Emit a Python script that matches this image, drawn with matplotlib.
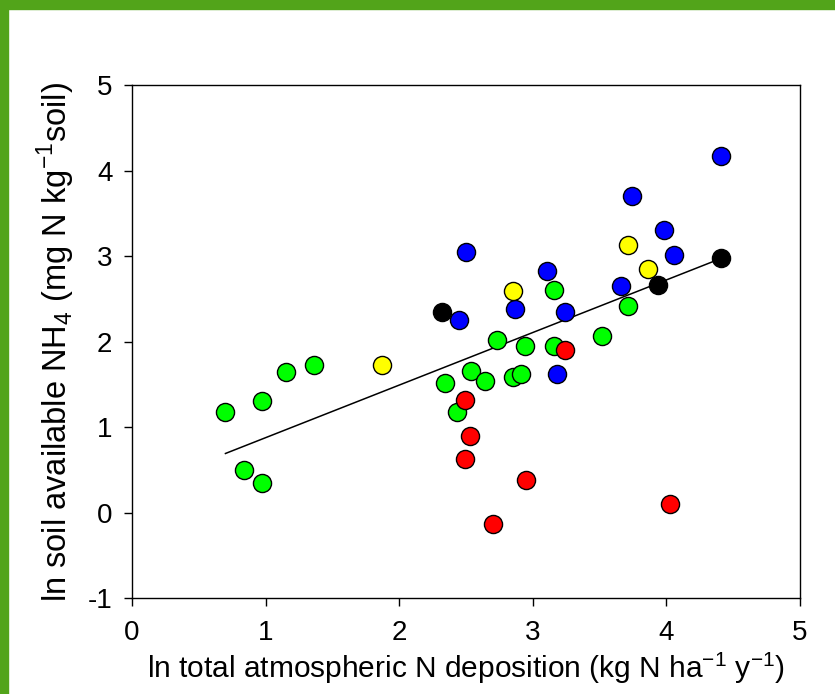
import matplotlib.pyplot as plt
import numpy as np
from matplotlib.patches import Rectangle

plt.rcParams['font.family'] = ['Liberation Sans', 'DejaVu Sans']
plt.rcParams['mathtext.fontset'] = 'custom'
plt.rcParams['mathtext.rm'] = 'Liberation Sans'
plt.rcParams['axes.unicode_minus'] = False

# ln deposition (x) and ln soil NH4 (y), one pair of arrays per site group
green_x = [0.70, 0.84, 0.97, 0.97, 1.155, 1.36, 2.34, 2.43, 2.54, 2.64, 2.73, 2.85,
           2.91, 2.94, 3.16, 3.16, 3.52, 3.71]
green_y = [1.17, 0.50, 1.30, 0.34, 1.64, 1.72, 1.51, 1.18, 1.65, 1.54, 2.02, 1.59,
           1.62, 1.95, 1.95, 2.60, 2.06, 2.41]
blue_x = [2.45, 2.50, 2.87, 3.11, 3.18, 3.24, 3.66, 3.74, 3.98, 4.06, 4.41]
blue_y = [2.25, 3.05, 2.38, 2.82, 1.62, 2.34, 2.65, 3.70, 3.31, 3.01, 4.17]
red_x = [2.49, 2.49, 2.53, 2.70, 2.95, 3.24, 4.03]
red_y = [1.32, 0.63, 0.89, -0.13, 0.38, 1.90, 0.10]
yellow_x = [1.87, 2.85, 3.71, 3.86]
yellow_y = [1.73, 2.59, 3.13, 2.85]
black_x = [2.32, 3.94, 4.41]
black_y = [2.35, 2.66, 2.98]

# fitted regression line
fit_slope = 0.615
fit_intercept = 0.26
fit_range = [0.70, 4.41]

fig = plt.figure(figsize=(8.35, 6.94), dpi=100)
fig.patches.append(Rectangle((0, 1 - 9 / 694), 1, 9 / 694, transform=fig.transFigure,
                             color='#52a41a', zorder=0))
fig.patches.append(Rectangle((0, 0), 8 / 835, 1, transform=fig.transFigure,
                             color='#52a41a', zorder=0))

ax = fig.add_axes([0.158, 0.1383, 0.8, 0.7392])

fx = np.array(fit_range)
ax.plot(fx, fit_intercept + fit_slope * fx, color='black', linewidth=1.1, zorder=2)

groups = [(green_x, green_y, '#00ff00'), (red_x, red_y, '#ff0000'),
          (blue_x, blue_y, '#0000ff'), (yellow_x, yellow_y, '#ffff00'),
          (black_x, black_y, '#000000')]
for gx, gy, c in groups:
    ax.scatter(gx, gy, s=170, color=c, edgecolors='black', linewidths=1.0, zorder=3)

ax.set_xlim(0, 5)
ax.set_ylim(-1, 5)
ax.set_xticks(range(0, 6))
ax.set_yticks(range(-1, 6))
ax.tick_params(direction='out', length=6, width=1, labelsize=20, top=False, right=False)
ax.tick_params(axis='x', pad=10)
ax.tick_params(axis='y', pad=8)
for sp in ax.spines.values():
    sp.set_linewidth(1)

ax.set_xlabel('ln total atmospheric N deposition (kg N ha$^{-1}$ y$^{-1}$)', fontsize=21.5, labelpad=3)
ax.set_ylabel('ln soil available NH$_4$ (mg N kg$^{-1}$soil)', fontsize=23.5, labelpad=8)

fig.savefig('out.png', dpi=100)
